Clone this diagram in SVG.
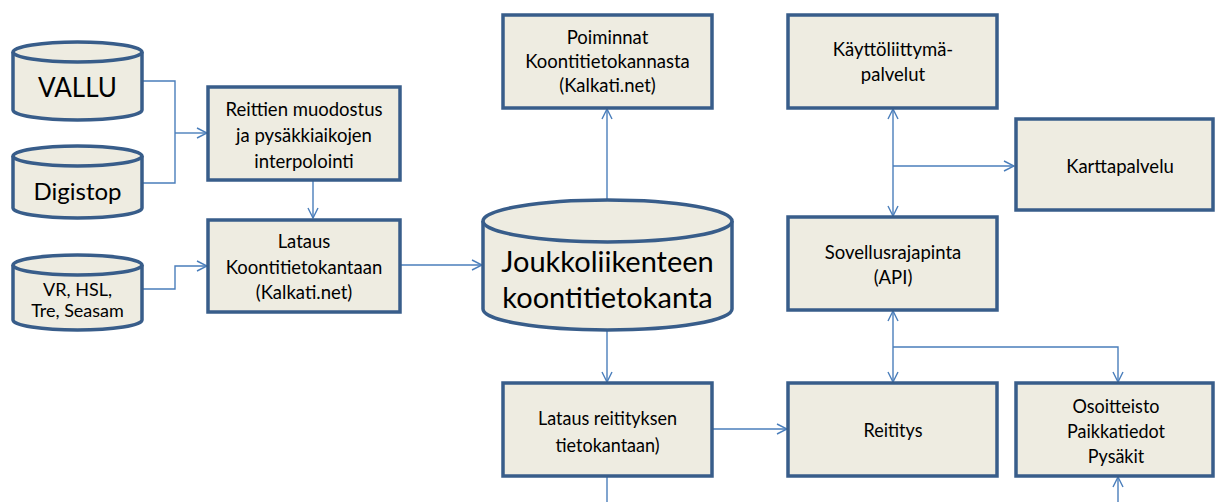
<svg xmlns="http://www.w3.org/2000/svg" width="1216" height="502" viewBox="0 0 1216 502">
  <style>
    .box { fill: #EEECE1; stroke: #385D8A; stroke-width: 3.5; }
    .cyl { fill: #EEECE1; stroke: #385D8A; stroke-width: 3.5; }
    .lbl { font-family: Lato, "Liberation Sans", sans-serif; fill: #000; text-anchor: middle; }
    .t16 { font-size: 18.5px; }
    .src { font-size: 18px; }
    .narrow { font-size: 20px; }
    .big { font-size: 26px; }
    .huge { font-size: 29px; }
    .link { fill: none; stroke: #4A7EBB; stroke-width: 1.4; }
  </style>
  <defs>
    <marker id="arr" viewBox="0 0 12 12" refX="11" refY="6" markerWidth="12" markerHeight="12" markerUnits="userSpaceOnUse" orient="auto-start-reverse">
      <path d="M1,1 L11,6 L1,11" fill="none" stroke="#4A7EBB" stroke-width="1.4"/>
    </marker>
  </defs>
  <rect width="1216" height="502" fill="#fff"/>

  <!-- connectors -->
  <g id="connectors">
    <path class="link" d="M142,81 H175 V183 H142"/>
    <path class="link" d="M175,133 H207" marker-end="url(#arr)"/>
    <path class="link" d="M313,180 V218" marker-end="url(#arr)"/>
    <path class="link" d="M142,289 H175 V266 H207" marker-end="url(#arr)"/>
    <path class="link" d="M400,265 H482" marker-end="url(#arr)"/>
    <path class="link" d="M607,210 V109" marker-end="url(#arr)"/>
    <path class="link" d="M893,109 V216" marker-start="url(#arr)" marker-end="url(#arr)"/>
    <path class="link" d="M893,166 H1014" marker-end="url(#arr)"/>
    <path class="link" d="M607,331 V382" marker-end="url(#arr)"/>
    <path class="link" d="M712,429 H787" marker-end="url(#arr)"/>
    <path class="link" d="M893,311 V382" marker-start="url(#arr)" marker-end="url(#arr)"/>
    <path class="link" d="M893,347 H1118 V382" marker-end="url(#arr)"/>
    <path class="link" d="M607,477 V502"/>
    <path class="link" d="M1118,502 V477" marker-end="url(#arr)"/>
  </g>

  <!-- data sources -->
  <g id="vallu">
    <path class="cyl" d="M13,52 V110 A64.5,10 0 0 0 142,110 V52"/>
    <ellipse class="cyl" cx="77.5" cy="52" rx="64.5" ry="10"/>
    <text class="lbl big" x="77.5" y="97">VALLU</text>
  </g>
  <g id="digistop">
    <path class="cyl" d="M13,156 V208 A64.5,10 0 0 0 142,208 V156"/>
    <ellipse class="cyl" cx="77.5" cy="156" rx="64.5" ry="10"/>
    <text class="lbl big" x="77.5" y="200" style="font-size:24px">Digistop</text>
  </g>
  <g id="vr-hsl">
    <path class="cyl" d="M13,265 V320 A64.5,10 0 0 0 142,320 V265"/>
    <ellipse class="cyl" cx="77.5" cy="265" rx="64.5" ry="10"/>
    <text class="lbl src" x="77.5" y="296">VR, HSL,</text>
    <text class="lbl src" x="77.5" y="317">Tre, Seasam</text>
  </g>

  <g id="reittien-muodostus">
    <rect class="box" x="208" y="87" width="192" height="93"/>
    <text class="lbl t16" x="304" y="116">Reittien muodostus</text>
    <text class="lbl t16" x="304" y="142">ja pysäkkiaikojen</text>
    <text class="lbl t16" x="304" y="168">interpolointi</text>
  </g>
  <g id="lataus-koontitietokantaan">
    <rect class="box" x="208" y="220" width="192" height="92"/>
    <text class="lbl t16" x="304" y="248">Lataus</text>
    <text class="lbl t16" x="304" y="274">Koontitietokantaan</text>
    <text class="lbl t16" x="304" y="299">(Kalkati.net)</text>
  </g>

  <g id="koontitietokanta">
    <path class="cyl" d="M483,221 V309 A124.5,21 0 0 0 732,309 V221"/>
    <ellipse class="cyl" cx="607.5" cy="221" rx="124.5" ry="21"/>
    <text class="lbl huge" x="607.5" y="272">Joukkoliikenteen</text>
    <text class="lbl huge" x="607.5" y="308">koontitietokanta</text>
  </g>

  <g id="poiminnat">
    <rect class="box" x="503" y="15" width="209" height="93"/>
    <text class="lbl t16" x="607.5" y="44">Poiminnat</text>
    <text class="lbl t16" x="607.5" y="68">Koontitietokannasta</text>
    <text class="lbl t16" x="607.5" y="92">(Kalkati.net)</text>
  </g>

  <g id="kayttoliittyma">
    <rect class="box" x="788" y="15" width="209" height="93"/>
    <text class="lbl t16" x="893" y="56">Käyttöliittymä-</text>
    <text class="lbl t16" x="893" y="81">palvelut</text>
  </g>
  <g id="karttapalvelu">
    <rect class="box" x="1016" y="119" width="197" height="91"/>
    <text class="lbl t16" x="1120" y="173">Karttapalvelu</text>
  </g>
  <g id="sovellusrajapinta">
    <rect class="box" x="788" y="217" width="209" height="93"/>
    <text class="lbl t16" x="893" y="259">Sovellusrajapinta</text>
    <text class="lbl t16" x="893" y="284">(API)</text>
  </g>

  <g id="lataus-reitityksen">
    <rect class="box" x="503" y="383" width="209" height="93"/>
    <g transform="translate(607.5,0) scale(0.9,1)">
      <text class="lbl narrow" x="0" y="425">Lataus reitityksen</text>
      <text class="lbl narrow" x="0" y="452">tietokantaan)</text>
    </g>
  </g>
  <g id="reititys">
    <rect class="box" x="788" y="383" width="209" height="93"/>
    <g transform="translate(893,0) scale(0.9,1)">
      <text class="lbl narrow" x="0" y="437">Reititys</text>
    </g>
  </g>
  <g id="osoitteisto">
    <rect class="box" x="1016" y="383" width="197" height="93"/>
    <g transform="translate(1116,0) scale(0.9,1)">
      <text class="lbl narrow" x="0" y="413">Osoitteisto</text>
      <text class="lbl narrow" x="0" y="438">Paikkatiedot</text>
      <text class="lbl narrow" x="0" y="463">Pysäkit</text>
    </g>
  </g>
</svg>
